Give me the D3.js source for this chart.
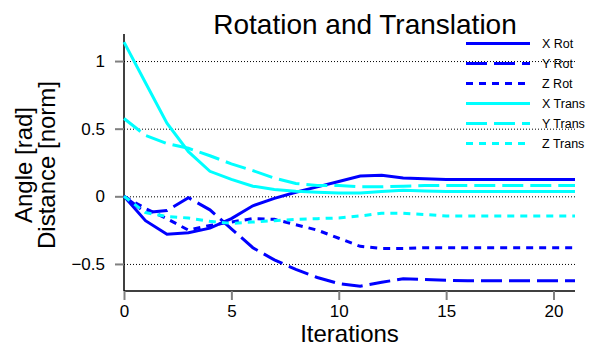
<!DOCTYPE html>
<html>
  <head>
    <meta charset="utf-8">
    <title>Rotation and Translation</title>
    <script src="https://cdn.jsdelivr.net/npm/d3@7"></script>
    <style>
      body { margin: 0; background: #fff; }
      svg { display: block; font-family: "Liberation Sans", Arial, sans-serif; }
    </style>
  </head>

  <body>
    <svg id="chart" width="597" height="347"></svg>

    <script>
      // data
      const iterations = d3.range(0, 22);
      const xRot = [0, -0.18, -0.28, -0.27, -0.235, -0.165, -0.07, -0.015, 0.03, 0.07, 0.11, 0.15, 0.155, 0.135, 0.13, 0.125, 0.125, 0.125, 0.125, 0.125, 0.125, 0.125];
      const yRot = [0, -0.12, -0.105, -0.01, -0.1, -0.24, -0.38, -0.47, -0.54, -0.6, -0.645, -0.665, -0.635, -0.61, -0.615, -0.62, -0.625, -0.625, -0.625, -0.625, -0.625, -0.625];
      const zRot = [0, -0.09, -0.165, -0.25, -0.215, -0.19, -0.165, -0.17, -0.21, -0.25, -0.31, -0.37, -0.385, -0.385, -0.38, -0.38, -0.38, -0.38, -0.38, -0.38, -0.38, -0.38];
      const xTrans = [1.14, 0.84, 0.54, 0.33, 0.185, 0.125, 0.075, 0.05, 0.038, 0.03, 0.025, 0.025, 0.035, 0.045, 0.04, 0.035, 0.035, 0.035, 0.035, 0.035, 0.035, 0.035];
      const yTrans = [0.575, 0.45, 0.39, 0.355, 0.3, 0.24, 0.19, 0.135, 0.095, 0.08, 0.08, 0.07, 0.07, 0.075, 0.08, 0.08, 0.08, 0.08, 0.08, 0.08, 0.08, 0.08];
      const zTrans = [0, -0.12, -0.15, -0.16, -0.185, -0.2, -0.19, -0.18, -0.17, -0.165, -0.16, -0.145, -0.125, -0.125, -0.135, -0.145, -0.145, -0.145, -0.145, -0.145, -0.145, -0.145];
      const seriesNames = ["X Rot", "Y Rot", "Z Rot", "X Trans", "Y Trans", "Z Trans"];
      const xTicks = [0, 5, 10, 15, 20];
      const yTicks = [-0.5, 0, 0.5, 1];

      const series = [
        { name: seriesNames[0], values: xRot, colour: "#0000ff", dash: null },
        { name: seriesNames[1], values: yRot, colour: "#0000ff", dash: "21,7" },
        { name: seriesNames[2], values: zRot, colour: "#0000ff", dash: "7,6" },
        { name: seriesNames[3], values: xTrans, colour: "#00ffff", dash: null },
        { name: seriesNames[4], values: yTrans, colour: "#00ffff", dash: "21,7" },
        { name: seriesNames[5], values: zTrans, colour: "#00ffff", dash: "7,6" }
      ];

      // layout
      const chart = d3.select("#chart");
      const plotLeft = 124, plotRight = 575, plotTop = 34, plotBottom = 291;

      const x = d3.scaleLinear().domain([0, 21]).range([plotLeft, plotRight]);
      const y = d3.scaleLinear().domain([-0.7, 1.2]).range([plotBottom, plotTop]);

      // gridlines
      chart.append("g")
        .selectAll("line")
        .data(yTicks)
        .join("line")
          .attr("x1", plotLeft)
          .attr("x2", plotRight)
          .attr("y1", d => y(d) + 0.5)
          .attr("y2", d => y(d) + 0.5)
          .style("stroke", "#000")
          .style("stroke-width", 1)
          .style("stroke-dasharray", "1,2");

      // axes
      const xAxis = chart.append("g")
        .attr("transform", "translate(0," + plotBottom + ")")
        .call(d3.axisBottom(x).tickValues(xTicks).tickSize(9).tickPadding(5).tickFormat(d3.format("d")));
      const yAxis = chart.append("g")
        .attr("transform", "translate(" + plotLeft + ",0)")
        .call(d3.axisLeft(y).tickValues(yTicks).tickSize(9).tickPadding(10).tickFormat(d => d == 0 ? "0" : String(d).replace("-", "\u2212")));

      [xAxis, yAxis].forEach(function(axis) {
        axis.select(".domain").style("stroke", "#000").style("stroke-width", 1.5);
        axis.selectAll(".tick line").style("stroke", "#808080").style("stroke-width", 2);
        axis.selectAll(".tick text")
          .style("font-family", "Liberation Sans, Arial, sans-serif")
          .style("font-size", "17px")
          .style("fill", "#000");
      });
      xAxis.select(".domain").attr("d", "M" + plotLeft + ",0H" + plotRight);
      yAxis.select(".domain").attr("d", "M0," + plotTop + "V" + plotBottom);

      // lines
      const line = d3.line()
        .x((d, i) => x(iterations[i]))
        .y(d => y(d));

      chart.append("g")
        .selectAll("path")
        .data(series)
        .join("path")
          .attr("d", d => line(d.values))
          .style("fill", "none")
          .style("stroke", d => d.colour)
          .style("stroke-width", 3)
          .style("stroke-dasharray", d => d.dash);

      // legend
      const legend = chart.append("g")
        .selectAll("g")
        .data(series)
        .join("g")
          .attr("transform", (d, i) => "translate(0," + (43.5 + i * 20) + ")");
      legend.append("line")
        .attr("x1", 466)
        .attr("x2", 530)
        .style("stroke", d => d.colour)
        .style("stroke-width", 3)
        .style("stroke-dasharray", d => d.dash);
      legend.append("text")
        .attr("x", 542)
        .attr("dy", "0.36em")
        .style("font-size", "12.5px")
        .text(d => d.name);

      // titles
      chart.append("text")
        .attr("x", 365)
        .attr("y", 34)
        .attr("text-anchor", "middle")
        .style("font-size", "28px")
        .text("Rotation and Translation");
      chart.append("text")
        .attr("x", (plotLeft + plotRight) / 2)
        .attr("y", 342)
        .attr("text-anchor", "middle")
        .style("font-size", "24px")
        .text("Iterations");
      const yTitle = chart.append("text")
        .attr("transform", "translate(32,165) rotate(-90)")
        .attr("text-anchor", "middle")
        .style("font-size", "24px");
      yTitle.append("tspan").attr("x", 0).attr("y", 0).text("Angle [rad]");
      yTitle.append("tspan").attr("x", 0).attr("y", 23).text("Distance [norm]");
    </script>
  </body>
</html>
